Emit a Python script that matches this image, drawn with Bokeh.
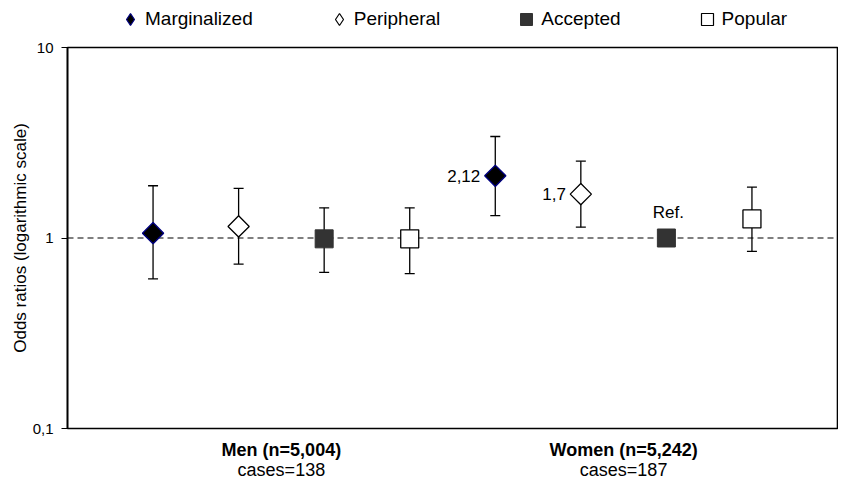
from bokeh.plotting import figure
from bokeh.layouts import column
from bokeh.models import (ColumnDataSource, Range1d, FixedTicker, LinearAxis, Whisker,
                          TeeHead, Span, Legend, LegendItem, CustomJSTickFormatter)
from bokeh.core.properties import value
from bokeh.embed import file_html
from bokeh.resources import INLINE

# ---------------- data ----------------
groups = ["Men (n=5,004)", "Women (n=5,242)"]
group_cases = ["cases=138", "cases=187"]
categories = ["Marginalized", "Peripheral", "Accepted", "Popular"]

men_or = [1.06, 1.15, 0.99, 0.99]
men_lo = [0.61, 0.73, 0.66, 0.65]
men_hi = [1.88, 1.82, 1.44, 1.44]

women_or = [2.12, 1.70, 1.00, 1.26]
women_lo = [1.31, 1.14, None, 0.85]
women_hi = [3.41, 2.53, None, 1.85]

men_point_labels = ["", "", "", ""]
women_point_labels = ["2,12", "1,7", "Ref.", ""]

y_ticks = [0.1, 1, 10]

# ---------------- styles ----------------
FONT = "Liberation Sans"
styles = {
    "Marginalized": dict(marker="square", angle=0.7854, size=15, fill_color="#000000",
                         line_color="#000080", line_width=1.3),
    "Peripheral": dict(marker="square", angle=0.7854, size=15, fill_color="#ffffff",
                       line_color="#000000", line_width=1.3),
    "Accepted": dict(marker="square", angle=0.0, size=18, fill_color="#333333",
                     line_color="#333333", line_width=1.0),
    "Popular": dict(marker="square", angle=0.0, size=18, fill_color="#ffffff",
                    line_color="#000000", line_width=1.3),
}
legend_styles = {
    "Marginalized": dict(marker="diamond", fill_color="#000000", line_color="#000080", line_width=1.2),
    "Peripheral": dict(marker="diamond", fill_color="#ffffff", line_color="#000000", line_width=1.2),
    "Accepted": dict(marker="square", fill_color="#333333", line_color="#333333", line_width=1.0),
    "Popular": dict(marker="square", fill_color="#ffffff", line_color="#000000", line_width=1.2),
}

# ---------------- build table ----------------
ncat = len(categories)
ors = [men_or, women_or]
los = [men_lo, women_lo]
his = [men_hi, women_hi]
plabels = [men_point_labels, women_point_labels]

rows = dict(x=[], odds=[], lo=[], hi=[], cat=[], label=[])
for gi in range(len(groups)):
    for ci, cat in enumerate(categories):
        rows["x"].append(gi * ncat + ci + 1)
        rows["odds"].append(ors[gi][ci])
        rows["lo"].append(los[gi][ci])
        rows["hi"].append(his[gi][ci])
        rows["cat"].append(cat)
        rows["label"].append(plabels[gi][ci])

n_slots = len(groups) * ncat + 1

cat_sources = {}
for cat in categories:
    idx = [i for i, c in enumerate(rows["cat"]) if c == cat]
    cat_sources[cat] = ColumnDataSource(dict(x=[rows["x"][i] for i in idx],
                                             y=[rows["odds"][i] for i in idx]))

# ---------------- legend strip ----------------
# its y range lies below all data, so its renderers only feed the legend swatches
lf = figure(width=838, height=32, x_range=Range1d(0, n_slots), y_range=Range1d(-2, -1),
            x_axis_location=None, y_axis_location=None,
            output_backend="svg", toolbar_location=None,
            min_border_left=0, min_border_right=0, min_border_top=0, min_border_bottom=0)
lf.grid.visible = False
lf.outline_line_color = None
lf.background_fill_color = "white"
lf.border_fill_color = "white"

items = []
for cat in categories:
    lr = lf.scatter(x="x", y="y", source=cat_sources[cat], **legend_styles[cat])
    items.append(LegendItem(label=cat, renderers=[lr]))

legend = Legend(items=items, orientation="horizontal", location=(48, -2),
                glyph_width=30, glyph_height=30, label_standoff=-3, spacing=71,
                padding=0, margin=0, border_line_color=None, background_fill_alpha=0,
                label_text_font=FONT, label_text_font_size="19px", label_text_color="#000000")
lf.add_layout(legend)

# ---------------- main plot ----------------
p = figure(width=838, height=452,
           x_range=Range1d(0, n_slots), y_range=Range1d(min(y_ticks), max(y_ticks)),
           y_axis_type="log", x_axis_location=None,
           output_backend="svg", toolbar_location=None,
           min_border_left=67, min_border_right=1, min_border_top=15, min_border_bottom=56)
p.grid.visible = False
p.outline_line_color = "#000000"
p.outline_line_width = 1.6
p.background_fill_color = "white"
p.border_fill_color = "white"

# y axis
yax = p.yaxis[0]
yax.ticker = FixedTicker(ticks=y_ticks, minor_ticks=[])
yax.formatter = CustomJSTickFormatter(code="return String(tick).replace('.', ',');")
yax.axis_label = "Odds ratios (logarithmic scale)"
yax.axis_label_text_font = FONT
yax.axis_label_text_font_size = "17px"
yax.axis_label_text_font_style = "normal"
yax.axis_label_text_color = "#000000"
yax.axis_label_standoff = 0
yax.major_label_text_font = FONT
yax.major_label_text_font_size = "15px"
yax.major_label_text_color = "#000000"
yax.major_label_standoff = 8
yax.major_tick_out = 6
yax.major_tick_in = 0
yax.minor_tick_out = 0
yax.minor_tick_in = 0
yax.axis_line_width = 1.6
yax.major_tick_line_color = "#000000"

# bottom group axes
group_ticks = [gi * ncat + (ncat + 1) / 2 for gi in range(len(groups))]
ax1 = LinearAxis(ticker=FixedTicker(ticks=group_ticks, minor_ticks=[]),
                 major_label_overrides={t: g for t, g in zip(group_ticks, groups)},
                 axis_line_color=None, major_tick_line_color=None, minor_tick_line_color=None,
                 major_tick_out=0, major_tick_in=0, major_label_standoff=11,
                 major_label_text_font=FONT, major_label_text_font_size="18px",
                 major_label_text_font_style="bold", major_label_text_color="#000000")
p.add_layout(ax1, "below")
ax2 = LinearAxis(ticker=FixedTicker(ticks=group_ticks, minor_ticks=[]),
                 major_label_overrides={t: c for t, c in zip(group_ticks, group_cases)},
                 axis_line_color=None, major_tick_line_color=None, minor_tick_line_color=None,
                 major_tick_out=0, major_tick_in=0, major_label_standoff=-3,
                 major_label_text_font=FONT, major_label_text_font_size="18px",
                 major_label_text_color="#000000")
p.add_layout(ax2, "below")

# reference line at 1
p.add_layout(Span(location=1, dimension="width", line_color="#000000", line_width=1.2,
                  line_dash="6 4", level="underlay"))

# error bars
wi = [i for i, v in enumerate(rows["lo"]) if v is not None]
wsrc = ColumnDataSource(dict(x=[rows["x"][i] for i in wi],
                             lower=[rows["lo"][i] for i in wi],
                             upper=[rows["hi"][i] for i in wi]))
p.add_layout(Whisker(base="x", lower="lower", upper="upper", source=wsrc, dimension="height",
                     line_color="#000000", line_width=1.3, level="underlay",
                     upper_head=TeeHead(size=10, line_width=1.3, line_color="#000000"),
                     lower_head=TeeHead(size=10, line_width=1.3, line_color="#000000")))

# markers
for cat in categories:
    p.scatter(x="x", y="y", source=cat_sources[cat], **styles[cat])

# point annotations
side = [i for i, l in enumerate(rows["label"]) if l and rows["lo"][i] is not None]
top = [i for i, l in enumerate(rows["label"]) if l and rows["lo"][i] is None]
p.text(x=[rows["x"][i] for i in side], y=[rows["odds"][i] for i in side],
       text=[rows["label"][i] for i in side], text_align="right", text_baseline="middle",
       x_offset=-15, text_font=value(FONT), text_font_size="17px", text_color="#000000")
p.text(x=[rows["x"][i] for i in top], y=[rows["odds"][i] for i in top],
       text=[rows["label"][i] for i in top], text_align="center", text_baseline="middle",
       y_offset=-26, x_offset=2, text_font=value(FONT), text_font_size="17px", text_color="#000000")

layout = column(lf, p, spacing=0)
open("out.html", "w").write(file_html(layout, INLINE, "Odds ratios"))
